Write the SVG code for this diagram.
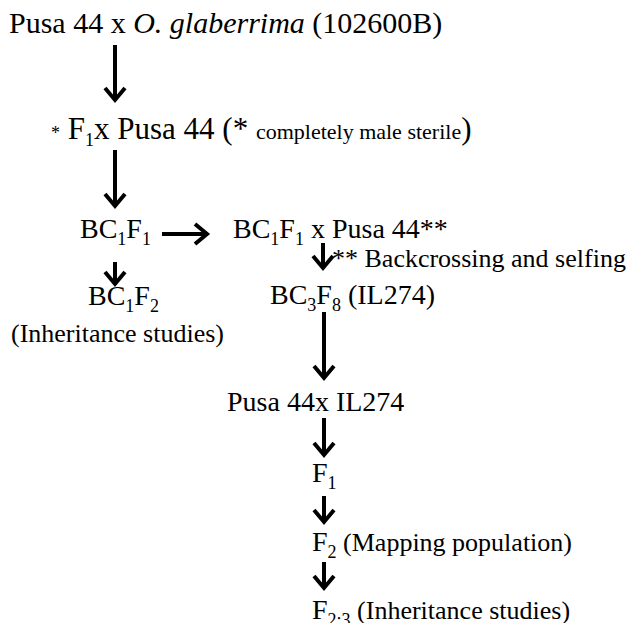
<svg xmlns="http://www.w3.org/2000/svg" width="633" height="623" viewBox="0 0 633 623" font-family="'Liberation Serif', 'DejaVu Serif', 'Times New Roman', serif">
<style>
text{font-family:'Liberation Serif','DejaVu Serif','Times New Roman',serif;fill:#000;font-size:28px}
.big{font-size:30px}
.l2{font-size:31px}
.note{font-size:26px}
.par{font-size:26px}
.small{font-size:22px}
.sub{font-size:18px}
.it{font-style:italic}
.arr{fill:none;stroke:#000;stroke-width:4;stroke-linejoin:miter;stroke-linecap:butt}
</style>
<rect width="633" height="623" fill="#fff"/>
<g id="n1"><text class="big" x="9" y="33">Pusa 44 x <tspan class="it">O. glaberrima</tspan> (102600B)</text></g>
<g id="n2"><text class="l2" x="51" y="139"><tspan class="sub">*</tspan> F<tspan class="sub" dy="7">1</tspan><tspan dy="-7">x Pusa 44 (* </tspan><tspan class="small">completely male sterile</tspan>)</text></g>
<g id="n3"><text x="80" y="238">BC<tspan class="sub" dy="7">1</tspan><tspan dy="-7">F</tspan><tspan class="sub" dy="7">1</tspan></text></g>
<g id="n4"><text x="233" y="238">BC<tspan class="sub" dy="7">1</tspan><tspan dy="-7">F</tspan><tspan class="sub" dy="7">1</tspan><tspan dy="-7"> x Pusa 44**</tspan></text></g>
<g id="note1"><text class="note" x="332" y="267">** Backcrossing and selfing</text></g>
<g id="n5"><text x="88" y="305">BC<tspan class="sub" dy="7">1</tspan><tspan dy="-7">F</tspan><tspan class="sub" dy="7">2</tspan></text>
<text class="par" x="11" y="342">(Inheritance studies)</text></g>
<g id="n6"><text x="270" y="304">BC<tspan class="sub" dy="7">3</tspan><tspan dy="-7">F</tspan><tspan class="sub" dy="7">8</tspan><tspan dy="-7"> (IL274)</tspan></text></g>
<g id="n7"><text x="227" y="411">Pusa 44x IL274</text></g>
<g id="n8"><text x="312" y="482">F<tspan class="sub" dy="7">1</tspan></text></g>
<g id="n9"><text x="312" y="551">F<tspan class="sub" dy="7">2</tspan><tspan class="par" dy="-7"> (Mapping population)</tspan></text></g>
<g id="n10"><text x="312" y="619">F<tspan class="sub" dy="7">2:3</tspan><tspan class="par" dy="-7"> (Inheritance studies)</tspan></text></g>
<g id="connectors">
<path class="arr" d="M115 45V100M105 88L115 100L125 88"/>
<path class="arr" d="M115 150V206M105 194L115 206L125 194"/>
<path class="arr" d="M162 234H207M195 224L207 234L195 244"/>
<path class="arr" d="M115 262V284M105 272L115 284L125 272"/>
<path class="arr" d="M323 243V268M313 256L323 268L333 256"/>
<path class="arr" d="M324 312V378M314 366L324 378L334 366"/>
<path class="arr" d="M324 418V455M314 443L324 455L334 443"/>
<path class="arr" d="M324 496V522M314 510L324 522L334 510"/>
<path class="arr" d="M324 562V588M314 576L324 588L334 576"/>
</g>
</svg>
